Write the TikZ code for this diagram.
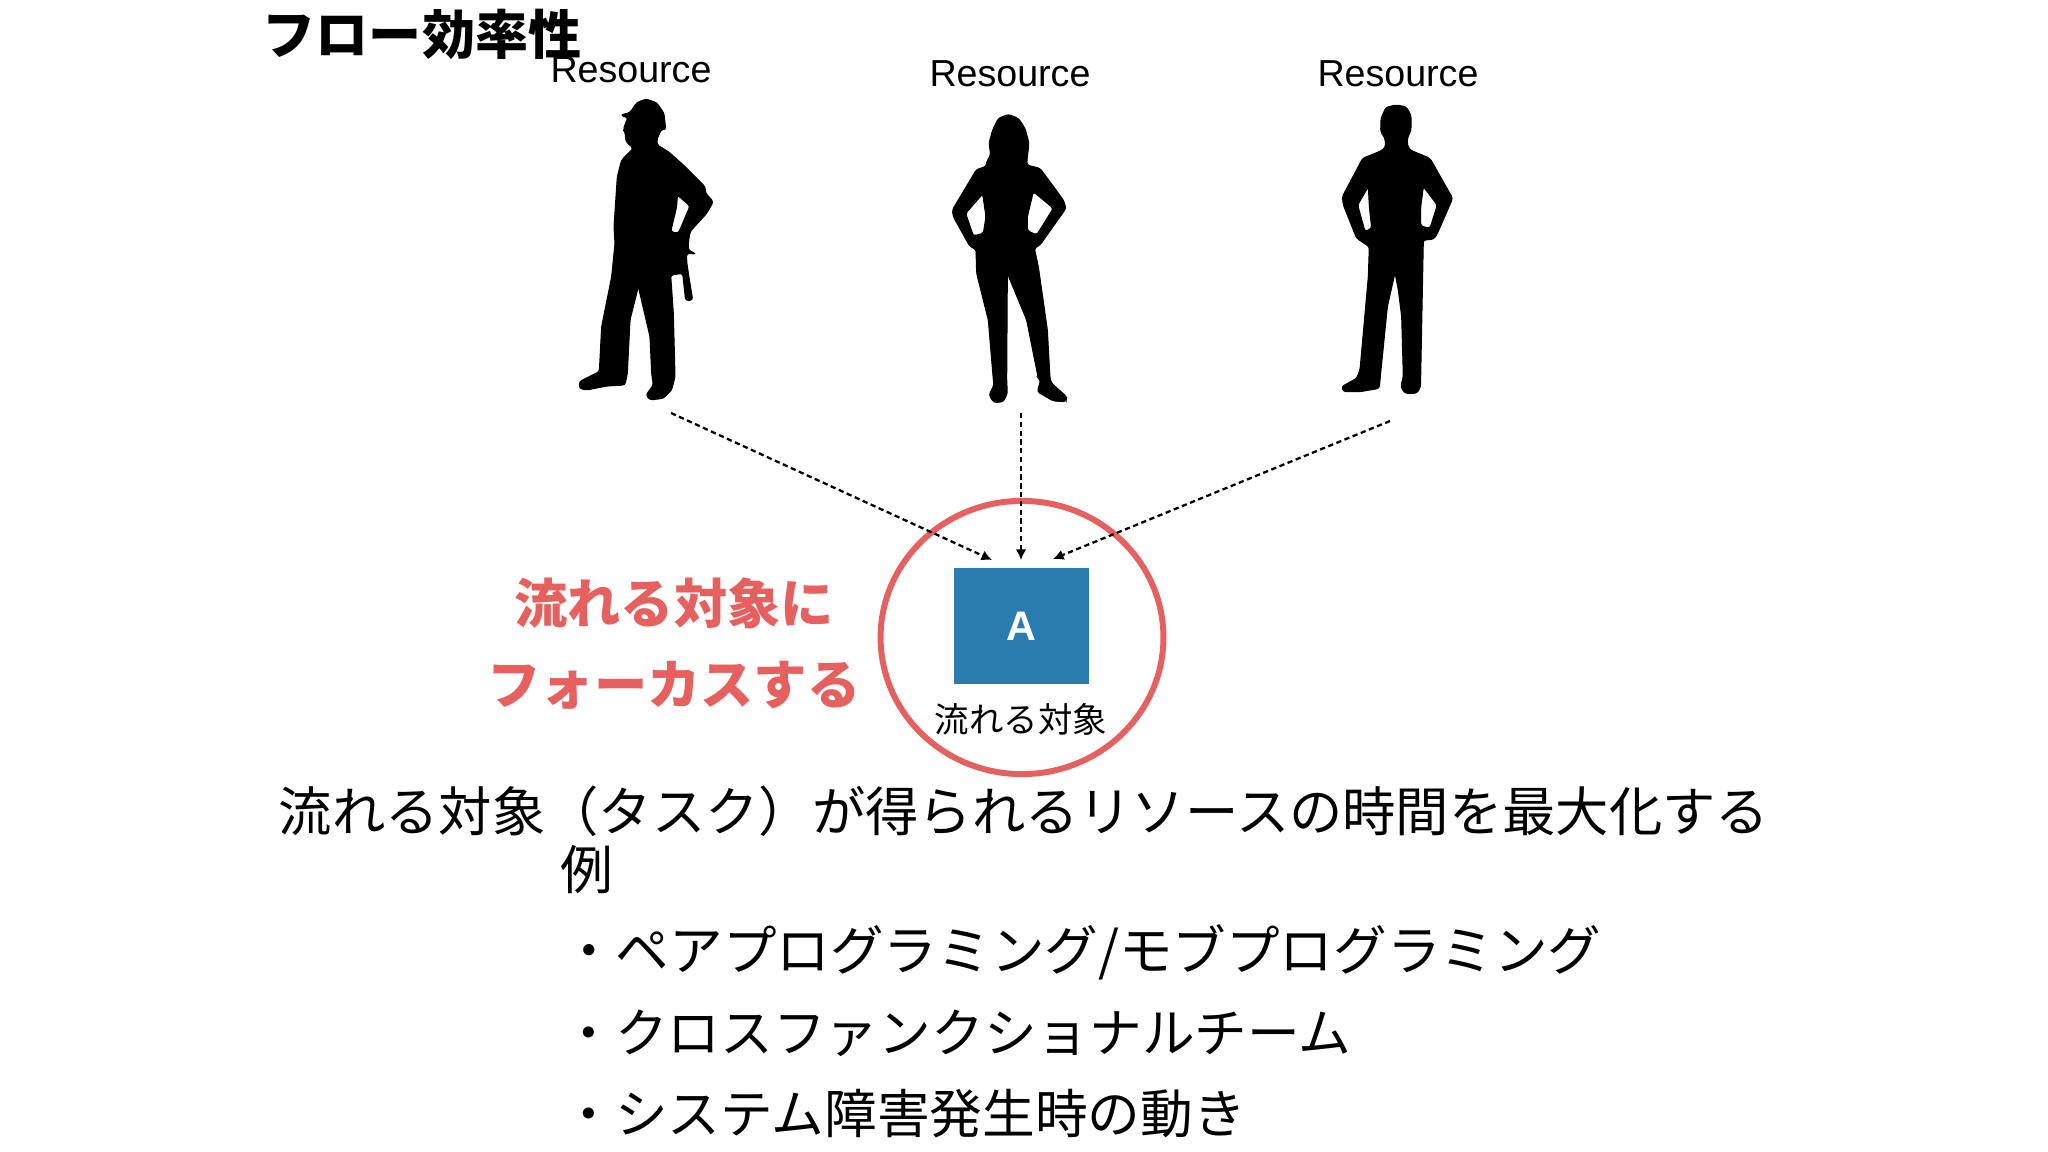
\documentclass[tikz,border=0pt]{standalone}
\usepackage{fontspec}
\usetikzlibrary{arrows.meta,shapes.geometric}
\setmainfont{Liberation Sans}
\newfontfamily\jpfont{Noto Sans CJK JP}
\definecolor{focusred}{HTML}{E5605E}
\definecolor{taskblue}{HTML}{2A7BAE}
\tikzset{
  silhouette/.style={fill=black,draw=black,line width=0.6pt,even odd rule,rounded corners=1.5pt},
  reslabel/.style={font=\fontsize{21.4}{25}\selectfont},
  titletext/.style={font=\jpfont\bfseries\fontsize{30.2}{36}\selectfont},
  bodytext/.style={font=\jpfont\fontsize{30.35}{36}\selectfont},
  listtext/.style={font=\jpfont\fontsize{30}{36}\selectfont,anchor=west,inner sep=0pt},
  focustext/.style={font=\jpfont\bfseries\fontsize{30.3}{36}\selectfont,text=focusred},
  flowarrow/.style={densely dashed,line width=1.3pt,-{Latex[length=6pt,width=6pt]}}
}
\begin{document}
\begin{tikzpicture}[x=0.02cm,y=-0.02cm]
  \useasboundingbox (0,0) rectangle (2048,1152);
  % Worker with helmet
  \begin{scope}[shift={(540,80)},scale=1/3]
    \fill[silhouette] (242,105) -- (270,98) -- (290,68) -- (318,57) -- (350,68) -- (372,100)
      -- (377,148) -- (364,148) -- (350,180) -- (352,195) -- (385,215) -- (430,255) -- (495,320)
      -- (497,340) -- (520,365) -- (500,400) -- (450,455) -- (445,490) -- (445,510) -- (468,522)
      -- (440,520) -- (440,545) -- (445,580) -- (458,660) -- (437,662) -- (428,580) -- (392,585)
      -- (400,700) -- (405,890) -- (395,930) -- (370,955) -- (330,960) -- (318,945) -- (340,915)
      -- (335,880) -- (330,770) -- (295,620) -- (270,720) -- (262,880) -- (255,915) -- (200,918)
      -- (140,930) -- (118,925) -- (118,905) -- (178,875) -- (185,740) -- (215,590) -- (225,490)
      -- (222,440) -- (232,290) -- (245,240) -- (280,205) -- (258,185) -- (255,155) -- (250,150)
      -- (258,125) -- (265,115) -- cycle
      (412,345) -- (450,378) -- (415,460) -- (392,455) -- (410,380) -- cycle;
  \end{scope}
  % Woman
  \begin{scope}[shift={(920,100)},scale=1/3]
    \fill[silhouette] (265,43) -- (235,55) -- (218,90) -- (207,130) -- (212,165) -- (200,185)
      -- (198,200) -- (170,208) -- (97,330) -- (100,350) -- (150,440) -- (168,448) -- (170,520)
      -- (205,660) -- (220,840) -- (222,855) -- (207,885) -- (222,908) -- (250,905) -- (262,880)
      -- (260,840) -- (262,520) -- (320,660) -- (355,835) -- (362,840) -- (352,875) -- (400,903)
      -- (438,905) -- (440,890) -- (395,850) -- (390,835) -- (382,690) -- (355,500) -- (343,445)
      -- (360,435) -- (438,325) -- (430,300) -- (360,205) -- (320,195) -- (322,170) -- (327,130)
      -- (315,85) -- (295,55) -- cycle
      (340,275) -- (322,350) -- (322,392) -- (350,405) -- (400,325) -- cycle
      (188,282) -- (137,340) -- (160,408) -- (190,400) -- (198,350) -- cycle;
  \end{scope}
  % Man
  \begin{scope}[shift={(1310,90)},scale=1/3]
    \fill[silhouette] (258,45) -- (228,52) -- (213,85) -- (212,125) -- (225,145) -- (227,170)
      -- (215,182) -- (158,205) -- (97,320) -- (100,345) -- (140,445) -- (178,470) -- (175,560)
      -- (150,840) -- (140,865) -- (95,890) -- (100,905) -- (150,905) -- (208,895) -- (210,870)
      -- (232,650) -- (255,548) -- (265,600) -- (275,680) -- (280,860) -- (272,890) -- (285,910)
      -- (320,910) -- (332,890) -- (332,860) -- (340,450) -- (370,448) -- (380,435) -- (428,325)
      -- (360,205) -- (300,180) -- (292,165) -- (292,145) -- (303,120) -- (303,75) -- (288,50) -- cycle
      (175,290) -- (143,345) -- (165,425) -- (185,415) -- (178,350) -- cycle
      (340,290) -- (332,350) -- (332,408) -- (360,415) -- (382,345) -- cycle;
  \end{scope}
  % Labels on top
  \node[titletext] (title) at (422,34) {フロー効率性};
  \node[reslabel] (res1) at (631,70) {Resource};
  \node[reslabel] (res2) at (1010,74) {Resource};
  \node[reslabel] (res3) at (1398,74) {Resource};
  % Task and focus circle
  \node[draw=focusred,line width=3.4pt,ellipse,minimum width=161pt,minimum height=155.5pt,inner sep=0pt] (focus) at (1022,637.5) {};
  \node[fill=taskblue,text=white,minimum width=76.5pt,minimum height=66.5pt,inner sep=0pt,font=\bfseries\fontsize{23.5}{28}\selectfont] (task) at (1021.5,626) {A};
  \node[font=\jpfont\fontsize{19.6}{23}\selectfont] (tasklabel) at (1021,719) {流れる対象};
  % Dotted arrows
  \coordinate (from1) at (671,413);
  \coordinate (from2) at (1021,413);
  \coordinate (from3) at (1390,421);
  \coordinate (to1) at (992,560);
  \coordinate (to2) at (1021,560);
  \coordinate (to3) at (1053,559);
  \draw[flowarrow] (from1) -- (to1);
  \draw[flowarrow] (from2) -- (to2);
  \draw[flowarrow] (from3) -- (to3);
  % Red message
  \node[focustext] (msg1) at (674,603) {流れる対象に};
  \node[focustext] (msg2) at (674,685) {フォーカスする};
  % Body text
  \node[bodytext] (lead) at (1024,811) {流れる対象（タスク）が得られるリソースの時間を最大化する};
  \node[listtext] (ex) at (560,870) {例};
  \node[listtext,font=\jpfont\fontsize{30.5}{36}\selectfont] (ex1) at (562,952) {・ペアプログラミング/モブプログラミング};
  \node[listtext] (ex2) at (562,1033) {・クロスファンクショナルチーム};
  \node[listtext] (ex3) at (562,1114) {・システム障害発生時の動き};
\end{tikzpicture}
\end{document}
